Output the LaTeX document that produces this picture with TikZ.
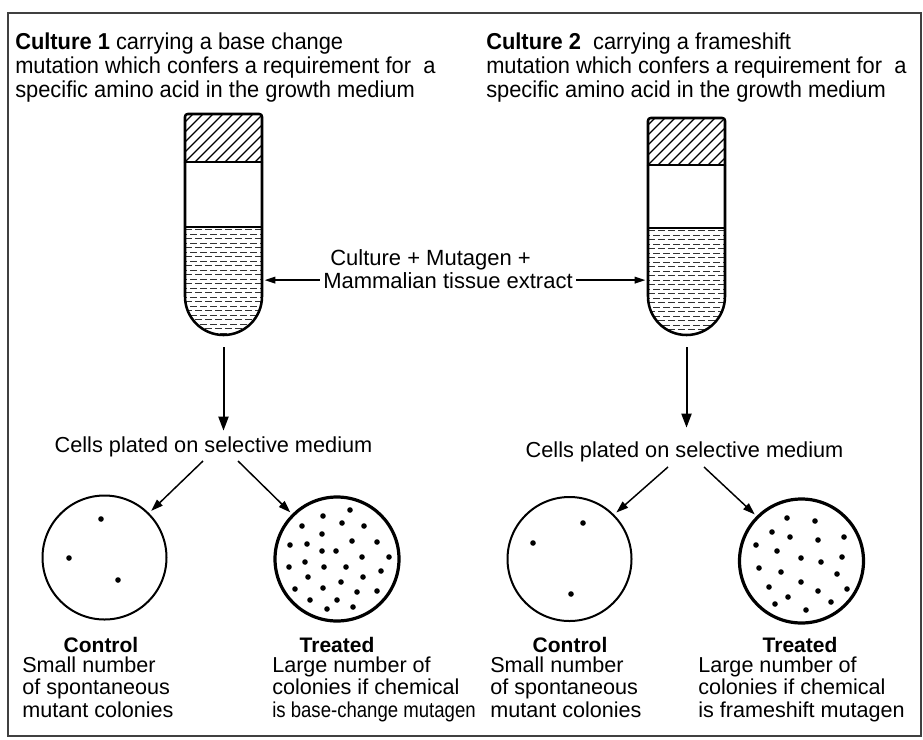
\documentclass[tikz,border=0pt]{standalone}
\usepackage{fontspec}
\setmainfont{Liberation Sans}
\newfontfamily\condfont[FakeStretch=0.95]{Liberation Sans}
\newfontfamily\narrowfont[FakeStretch=0.86]{Liberation Sans}
\usetikzlibrary{arrows.meta}

\newcommand\leftlines[1]{\begin{tabular}[b]{@{}l@{}}#1\end{tabular}}

\tikzset{
  tubeline/.style={line width=1.9pt, line join=round},
  thinline/.style={line width=0.8pt},
  liquid/.style={line width=0.75pt, black!80, dash pattern=on 5.25pt off 2.25pt},
  hatch/.style={line width=1pt},
  hdr/.style={font=\condfont\fontsize{17.25}{17.6}\selectfont, anchor=base west, inner sep=0pt},
  midtxt/.style={font=\fontsize{16.5}{17.6}\selectfont, anchor=base west, inner sep=0pt},
  celltxt/.style={font=\fontsize{16.3}{17}\selectfont, anchor=base, inner sep=0pt},
  lbl/.style={font=\bfseries\fontsize{15.75}{16}\selectfont, anchor=base, inner sep=0pt},
  desc/.style={font=\fontsize{16.2}{16.1}\selectfont, anchor=base west, inner sep=0pt},
  plateC/.style={circle, draw, line width=1.5pt, minimum size=93pt, inner sep=0pt, outer sep=0pt},
  plateT/.style={circle, draw, line width=2.4pt, minimum size=93pt, inner sep=0pt, outer sep=0pt},
  downarr/.style={line width=1.5pt, -{Triangle[length=10.5pt,width=7.5pt]}},
  sidearr/.style={line width=1.1pt, -{Triangle[length=8pt,width=5pt]}},
  diagarr/.style={line width=1.1pt, -{Triangle[length=9pt,width=6pt]}},
  frame/.style={line width=1pt, black!75}
}

% name, cx, captop, capbottom, liquidtop, bottom
\newcommand\testtube[6]{%
  \pgfmathsetmacro\tubeL{#2-38.5}%
  \pgfmathsetmacro\tubeR{#2+38.5}%
  \pgfmathsetmacro\tubeA{#6-38.5}%
  \pgfmathsetmacro\tubeMid{(#3+#6)/2}%
  \pgfmathsetmacro\tubeH{(#6-#3)*0.75}%
  \node[minimum width=57.75pt, minimum height=\tubeH pt, inner sep=0pt, outer sep=2pt] (#1) at (#2,\tubeMid) {};
  \begin{scope}
    \clip (\tubeL,#5) -- (\tubeL,\tubeA) arc[start angle=180,end angle=0,radius=38.5] -- (\tubeR,#5) -- cycle;
    \foreach \i in {0,...,26}{%
      \pgfmathsetmacro\yy{#5+2.5+\i*4.5}%
      \pgfmathsetmacro\ph{mod(\i,2)*3.75}%
      \draw[liquid, dash phase=\ph pt] (\tubeL,\yy) -- (\tubeR,\yy);
    }
  \end{scope}
  \begin{scope}
    \clip (\tubeL,#3) rectangle (\tubeR,#4);
    \foreach \i in {0,...,13}{%
      \pgfmathsetmacro\xx{\tubeL-50+\i*10}%
      \draw[hatch] (\xx,#4) -- ++(50,-50);
    }
  \end{scope}
  \draw[thinline] (\tubeL,#5) -- (\tubeR,#5);
  \draw[tubeline] (\tubeL,#4) -- (\tubeR,#4);
  \draw[tubeline] (\tubeL,#4) -- (\tubeL,\tubeA) arc[start angle=180,end angle=0,radius=38.5] -- (\tubeR,#4);
  \draw[tubeline, rounded corners=2pt] (\tubeL,#4) -- (\tubeL,#3) -- (\tubeR,#3) -- (\tubeR,#4);
}

\begin{document}
\begin{tikzpicture}[x=0.75pt,y=-0.75pt]
\useasboundingbox (0,0) rectangle (923,739);
\fill[white] (0,0) rectangle (923,739);
\draw[frame] (8,13) rectangle (921,736);

% headers (anchor at baseline of last line)
\node[hdr] (head1) at (15,97) {\leftlines{\textbf{Culture 1} carrying a base change\\mutation which confers a requirement for~ a\\specific amino acid in the growth medium}};
\node[hdr] (head2) at (486,97) {\leftlines{\textbf{Culture 2}~ carrying a frameshift\\mutation which confers a requirement for~ a\\specific amino acid in the growth medium}};

% tubes
\testtube{tube1}{223.5}{114}{162}{227}{335}
\testtube{tube2}{686.5}{118}{165}{228}{335}

% middle text
\node[midtxt] (mix1) at (330,265) {Culture + Mutagen +};
\node[midtxt] (mix2) at (323,288) {Mammalian tissue extract};
\draw[sidearr] ([xshift=-2.5pt]mix2.west) -- (mix2.west -| tube1.east);
\draw[sidearr] ([xshift=2.5pt]mix2.east) -- (mix2.east -| tube2.west);

% plating text
\node[celltxt] (cells1) at (213.5,452) {Cells plated on selective medium};
\node[celltxt] (cells2) at (684.5,457) {Cells plated on selective medium};
\draw[downarr, shorten <=7pt, shorten >=4pt] (tube1.south) -- (tube1.south |- cells1.north);
\draw[downarr, shorten <=7pt, shorten >=10pt] (tube2.south) -- (tube2.south |- cells2.north);

% plates
\node[plateC] (c1) at (104.5,557.5) {};
\node[plateT] (t1) at (337,559) {};
\node[plateC] (c2) at (569.5,559) {};
\node[plateT] (t2) at (801.5,561) {};

\coordinate (s1l) at (203,461);
\coordinate (s1r) at (238,461);
\coordinate (s2l) at (668,467);
\coordinate (s2r) at (704,467);
\draw[diagarr, shorten >=3pt] (s1l) -- (c1.north east);
\draw[diagarr, shorten >=3pt] (s1r) -- (t1.north west);
\draw[diagarr, shorten >=3pt] (s2l) -- (c2.north east);
\draw[diagarr, shorten >=3pt] (s2r) -- (t2.north west);

% colonies
\foreach \x/\y in {101/519, 69/558, 118/580}
  \fill (\x,\y) circle (2.8);
\foreach \x/\y in {350/510, 323/516, 342/523, 364/526, 302/526, 322/534, 352/541, 377/542, 290/545, 307/544, 322/551, 336/551, 362/557, 389/557, 289/567, 305/562, 324/567, 346/567, 381/571, 308/577, 341/582, 363/577, 295/589, 323/588, 357/592, 377/591, 310/600, 337/600, 353/607, 327/609}
  \fill (\x,\y) circle (2.8);
\foreach \x/\y in {583/523, 533/543, 571/594}
  \fill (\x,\y) circle (2.8);
\foreach \x/\y in {787/518, 815/521, 772/532, 790/537, 818/540, 844/537, 756/545, 777/551, 801/558, 821/562, 842/557, 759/568, 781/572, 837/574, 801/582, 769/587, 818/591, 847/589, 788/597, 831/602, 775/604, 806/610}
  \fill (\x,\y) circle (2.8);

% labels
\node[lbl] (lc1) at (101,652) {Control};
\node[lbl] (lt1) at (337,652) {Treated};
\node[lbl] (lc2) at (570,652) {Control};
\node[lbl] (lt2) at (800,652) {Treated};

% descriptions (anchor at baseline of last line)
\node[desc] (dc1) at (22,717) {\leftlines{Small number\\of spontaneous\\mutant colonies}};
\node[desc] (dt1) at (272,717) {\leftlines{Large number of\\colonies if chemical\\{\narrowfont is base-change mutagen}}};
\node[desc] (dc2) at (490,717) {\leftlines{Small number\\of spontaneous\\mutant colonies}};
\node[desc] (dt2) at (698,717) {\leftlines{Large number of\\colonies if chemical\\is frameshift mutagen}};
\end{tikzpicture}
\end{document}
